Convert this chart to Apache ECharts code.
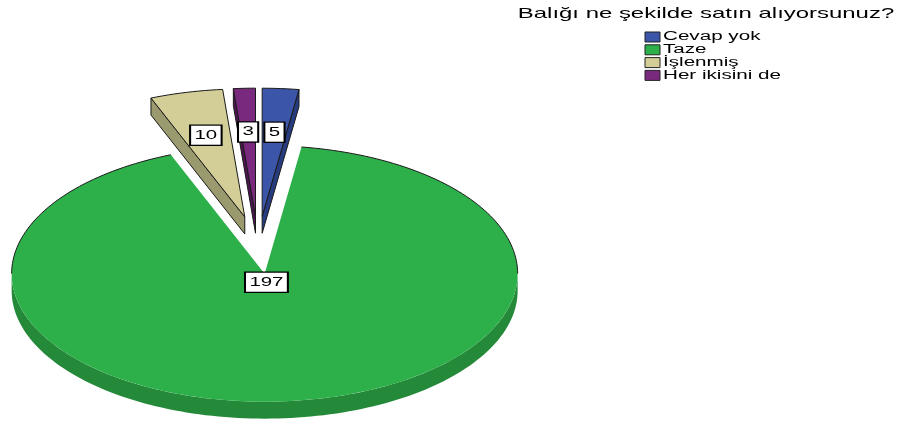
<!DOCTYPE html>
<html>
<head>
<meta charset="utf-8">
<script src="https://cdn.jsdelivr.net/npm/echarts@6/dist/echarts.min.js"></script>
<style>html,body{margin:0;padding:0;background:#fff;}#c{width:902px;height:423px;}</style>
</head>
<body>
<div id="c"></div>
<script>
// ---- data ----
const titleText = 'Balığı ne şekilde satın alıyorsunuz?';
const categories = ['Cevap yok', 'Taze', 'İşlenmiş', 'Her ikisini de'];
const values = [5, 197, 10, 3];
const colors = ['#3b55a8', '#2db04a', '#d3ce97', '#7a2a7e'];
const sideColors = ['#273c80', '#248a3a', '#9b9a6f', '#4e1552'];

// ---- geometry (layout only) ----
const CX = 258, CY = 245, R = 253, K = 0.506, EXPLODE = 57, DEPTH = 17, STRETCH = 1.7;
const total = values.reduce((a, b) => a + b, 0);
const RAD = Math.PI / 180;
function pt(cx, cy, r, deg) {
  return [cx + r * Math.sin(deg * RAD), cy - K * r * Math.cos(deg * RAD)];
}
function down(p) { return [p[0], p[1] + DEPTH]; }

function makeRender(i) {
  return function (params, api) {
    let start = 0;
    for (let j = 0; j < i; j++) start += values[j] / total * 360;
    const v = api.value(0);
    const end = start + v / total * 360;
    const mid = (start + end) / 2;
    const ox = CX + EXPLODE * Math.sin(mid * RAD);
    const oy = CY - K * EXPLODE * Math.cos(mid * RAD);
    const children = [];
    const arcPts = (a0, a1) => {
      const n = Math.max(2, Math.ceil((a1 - a0) / 1.5));
      const out = [];
      for (let s = 0; s <= n; s++) out.push(pt(ox, oy, R, a0 + (a1 - a0) * s / n));
      return out;
    };
    const stroke = '#1a1a1a';
    const big = v / total > 0.5;
    // outer wall (front half)
    const fs = Math.max(start, 90), fe = Math.min(end, 270);
    if (fe > fs) {
      const top = arcPts(fs, fe);
      const poly = top.concat(top.slice().reverse().map(down));
      children.push({ type: 'polygon', shape: { points: poly }, style: { fill: sideColors[i], stroke: null } });
    }
    // radial cut faces
    const face = (ang) => {
      const c = [ox, oy], o = pt(ox, oy, R, ang);
      children.push({ type: 'polygon', shape: { points: [c, o, down(o), down(c)] },
        style: { fill: sideColors[i], stroke: stroke, lineWidth: 1 } });
    };
    if (Math.cos((start - 90) * RAD) < -0.01) face(start);
    if (Math.cos((end + 90) * RAD) < -0.01) face(end);
    // top face
    const arc = arcPts(start, end);
    children.push({ type: 'polygon', shape: { points: [[ox, oy]].concat(arc) },
      style: { fill: colors[i], stroke: null } });
    // outlines: radial edges + back part of arc
    if (!big) {
      children.push({ type: 'polyline', shape: { points: [arc[arc.length - 1], [ox, oy], arc[0]] },
        style: { stroke: stroke, lineWidth: 1, fill: null } });
    }
    const backSegs = [[start, Math.min(end, 90)], [Math.max(start, 270), end]];
    backSegs.forEach(([a, b]) => {
      if (b > a) children.push({ type: 'polyline', shape: { points: arcPts(a, b) },
        style: { stroke: stroke, lineWidth: 1, fill: null } });
    });
    // value label at sector centroid
    const alpha = (end - start) * RAD;
    const d = 4 * R * Math.sin(alpha / 2) / (3 * alpha);
    const lp = pt(ox, oy, d, mid);
    children.push({ type: 'text', x: lp[0], y: lp[1] + 1, scaleX: STRETCH,
      style: { text: String(v), fill: '#000', font: '12px "Liberation Sans", Arial, sans-serif',
        align: 'center', verticalAlign: 'middle', backgroundColor: '#fff',
        borderColor: '#000', borderWidth: 1.2, padding: [4, 2, 3, 2] } });
    return { type: 'group', children: children };
  };
}

const series = categories.map((name, i) => ({
  type: 'custom', name: name, coordinateSystem: 'none', silent: true,
  z: values[i] / total > 0.5 ? 3 : 2,
  itemStyle: { color: colors[i] },
  data: [values[i]],
  renderItem: makeRender(i)
}));

// title and legend as horizontally stretched text
const graphics = [{
  type: 'text', x: 706, y: 14, scaleX: 1.65,
  style: { text: titleText, fill: '#000', font: '14.5px "Liberation Sans", Arial, sans-serif',
    align: 'center', verticalAlign: 'middle' }
}];
categories.forEach((name, i) => {
  const y = 37 + 12.8 * i;
  graphics.push({ type: 'rect', shape: { x: 645, y: y - 5, width: 15, height: 10 },
    style: { fill: colors[i], stroke: '#222', lineWidth: 1 } });
  graphics.push({ type: 'text', x: 663, y: y, scaleX: 1.65,
    style: { text: name, fill: '#000', font: '12.5px "Liberation Sans", Arial, sans-serif',
      align: 'left', verticalAlign: 'middle' } });
});

const chart = echarts.init(document.getElementById('c'), null, { renderer: 'canvas' });
chart.setOption({
  animation: false,
  backgroundColor: '#fff',
  graphic: graphics,
  series: series
});
</script>
</body>
</html>
